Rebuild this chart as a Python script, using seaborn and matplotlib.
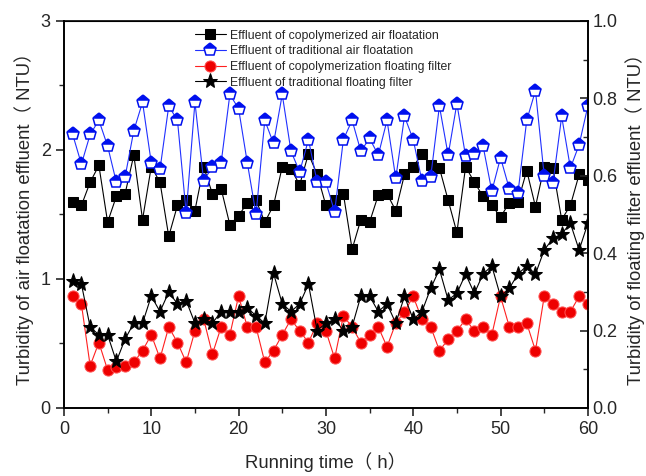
import numpy as np
import pandas as pd
import seaborn as sns
import matplotlib
matplotlib.use("Agg")
import matplotlib.pyplot as plt

# running time (h)
tempo = list(range(1, 61))

# left axis: air floatation effluent (NTU)
aria_copolimero = [1.60, 1.57, 1.75, 1.88, 1.44, 1.64, 1.66, 1.96, 1.46, 1.87,
                   1.75, 1.33, 1.57, 1.61, 1.53, 1.87, 1.66, 1.70, 1.42, 1.49,
                   1.59, 1.61, 1.44, 1.57, 1.87, 1.85, 1.73, 1.97, 1.81, 1.57,
                   1.61, 1.66, 1.23, 1.46, 1.44, 1.65, 1.66, 1.53, 1.81, 1.87,
                   1.97, 1.88, 1.86, 1.61, 1.36, 1.87, 1.75, 1.64, 1.57, 1.48,
                   1.59, 1.60, 1.84, 1.56, 1.87, 1.86, 1.46, 1.57, 1.81, 1.77]
aria_tradizionale = [2.12, 1.89, 2.12, 2.23, 2.03, 1.75, 1.79, 2.15, 2.37, 1.90,
                     1.85, 2.34, 2.23, 1.51, 2.37, 1.76, 1.87, 1.90, 2.43, 2.32,
                     1.90, 1.50, 2.23, 2.05, 2.43, 1.99, 1.83, 2.08, 1.75, 1.75,
                     1.52, 2.08, 2.23, 1.99, 2.09, 1.96, 2.23, 1.78, 2.26, 2.08,
                     1.76, 1.79, 2.34, 1.96, 2.36, 1.95, 1.97, 2.03, 1.68, 1.94,
                     1.70, 1.67, 2.23, 2.46, 1.80, 1.74, 2.26, 1.86, 2.04, 2.34]

# right axis: floating filter effluent (NTU)
filtro_copolimero = [0.288, 0.268, 0.109, 0.169, 0.098, 0.107, 0.109, 0.118, 0.148, 0.189,
                     0.128, 0.209, 0.169, 0.118, 0.199, 0.230, 0.139, 0.209, 0.189, 0.289,
                     0.209, 0.209, 0.118, 0.148, 0.189, 0.229, 0.199, 0.169, 0.219, 0.199,
                     0.128, 0.238, 0.209, 0.169, 0.189, 0.209, 0.158, 0.219, 0.249, 0.288,
                     0.229, 0.210, 0.148, 0.177, 0.199, 0.229, 0.199, 0.210, 0.189, 0.288,
                     0.210, 0.210, 0.219, 0.148, 0.288, 0.269, 0.249, 0.249, 0.288, 0.269]
filtro_tradizionale = [0.329, 0.320, 0.209, 0.189, 0.189, 0.120, 0.178, 0.219, 0.219, 0.289,
                       0.249, 0.299, 0.269, 0.277, 0.219, 0.230, 0.219, 0.249, 0.249, 0.249,
                       0.259, 0.238, 0.219, 0.348, 0.269, 0.249, 0.269, 0.320, 0.200, 0.219,
                       0.229, 0.200, 0.210, 0.289, 0.289, 0.249, 0.269, 0.219, 0.288, 0.229,
                       0.249, 0.309, 0.358, 0.279, 0.296, 0.346, 0.296, 0.346, 0.367, 0.288,
                       0.309, 0.346, 0.367, 0.346, 0.408, 0.438, 0.450, 0.477, 0.408, 0.477]

etichette = ["Effluent of copolymerized air floatation",
             "Effluent of traditional air floatation",
             "Effluent of copolymerization floating filter",
             "Effluent of traditional floating filter"]

df = pd.DataFrame({"tempo": tempo,
                   "aria_cop": aria_copolimero, "aria_trad": aria_tradizionale,
                   "filtro_cop": filtro_copolimero, "filtro_trad": filtro_tradizionale})

sns.set_style("ticks")
plt.rcParams["font.family"] = ["Liberation Sans", "Noto Sans CJK SC", "DejaVu Sans"]

fig = plt.figure(figsize=(6.46, 4.76), dpi=100)
ax = fig.add_axes([0.099, 0.143, 0.811, 0.813])
ax2 = ax.twinx()

sns.lineplot(data=df, x="tempo", y="aria_cop", ax=ax, color="black", linewidth=0.8,
             marker="s", markersize=7, markeredgecolor="black", label=etichette[0], legend=False)
sns.lineplot(data=df, x="tempo", y="aria_trad", ax=ax, color="#2030ff", linewidth=0.8,
             marker="p", markersize=9.5, markerfacecolor="#0010ee", markerfacecoloralt="white",
             fillstyle="top", markeredgecolor="#0010ee", markeredgewidth=1.1,
             label=etichette[1], legend=False)
sns.lineplot(data=df, x="tempo", y="filtro_cop", ax=ax2, color="#ff2020", linewidth=0.8,
             marker="o", markersize=8, markerfacecolor="#ee0000", markeredgecolor="#ff5050",
             label=etichette[2], legend=False)
sns.lineplot(data=df, x="tempo", y="filtro_trad", ax=ax2, color="black", linewidth=0.8,
             marker="*", markersize=11, markeredgecolor="black",
             label=etichette[3], legend=False)

ax.set_xlim(0, 60)
ax.set_ylim(0, 3)
ax2.set_ylim(0, 1.0)
ax.set_xticks(range(0, 61, 10))
ax.set_xticks(range(5, 60, 10), minor=True)
ax.set_yticks([0, 1, 2, 3])
ax.set_yticks([0.5, 1.5, 2.5], minor=True)
ax2.set_yticks(np.arange(0, 1.01, 0.2))
ax2.set_yticks(np.arange(0.1, 1.0, 0.2), minor=True)
ax2.yaxis.set_major_formatter(matplotlib.ticker.FormatStrFormatter("%.1f"))

ax.tick_params(axis="both", which="major", direction="out", length=6, width=1.2, labelsize=13)
ax.tick_params(axis="both", which="minor", direction="out", length=3.5, width=1.0)
ax2.tick_params(axis="y", which="major", direction="in", length=6, width=1.2, labelsize=13)
ax2.tick_params(axis="y", which="minor", direction="in", length=3.5, width=1.0)

for a in (ax, ax2):
    for s in a.spines.values():
        s.set_visible(True)
        s.set_linewidth(1.2)
        s.set_color("black")
ax.spines["top"].set_linewidth(0.8)

ax.set_xlabel("Running time（ h）", fontsize=13.3, labelpad=10)
ax.set_ylabel("Turbidity of air floatation effluent（ NTU）", fontsize=13.3, labelpad=5)
ax2.set_ylabel("Turbidity of floating filter effluent（ NTU）", fontsize=13.3, labelpad=5)

h1, l1 = ax.get_legend_handles_labels()
h2, l2 = ax2.get_legend_handles_labels()
ax.legend(h1 + h2, l1 + l2, loc="upper left", bbox_to_anchor=(0.24, 0.99), frameon=False,
          fontsize=8.8, handlelength=2.6, borderaxespad=0, labelspacing=0.3, handletextpad=0.3)

fig.savefig("out.png", dpi=100)
